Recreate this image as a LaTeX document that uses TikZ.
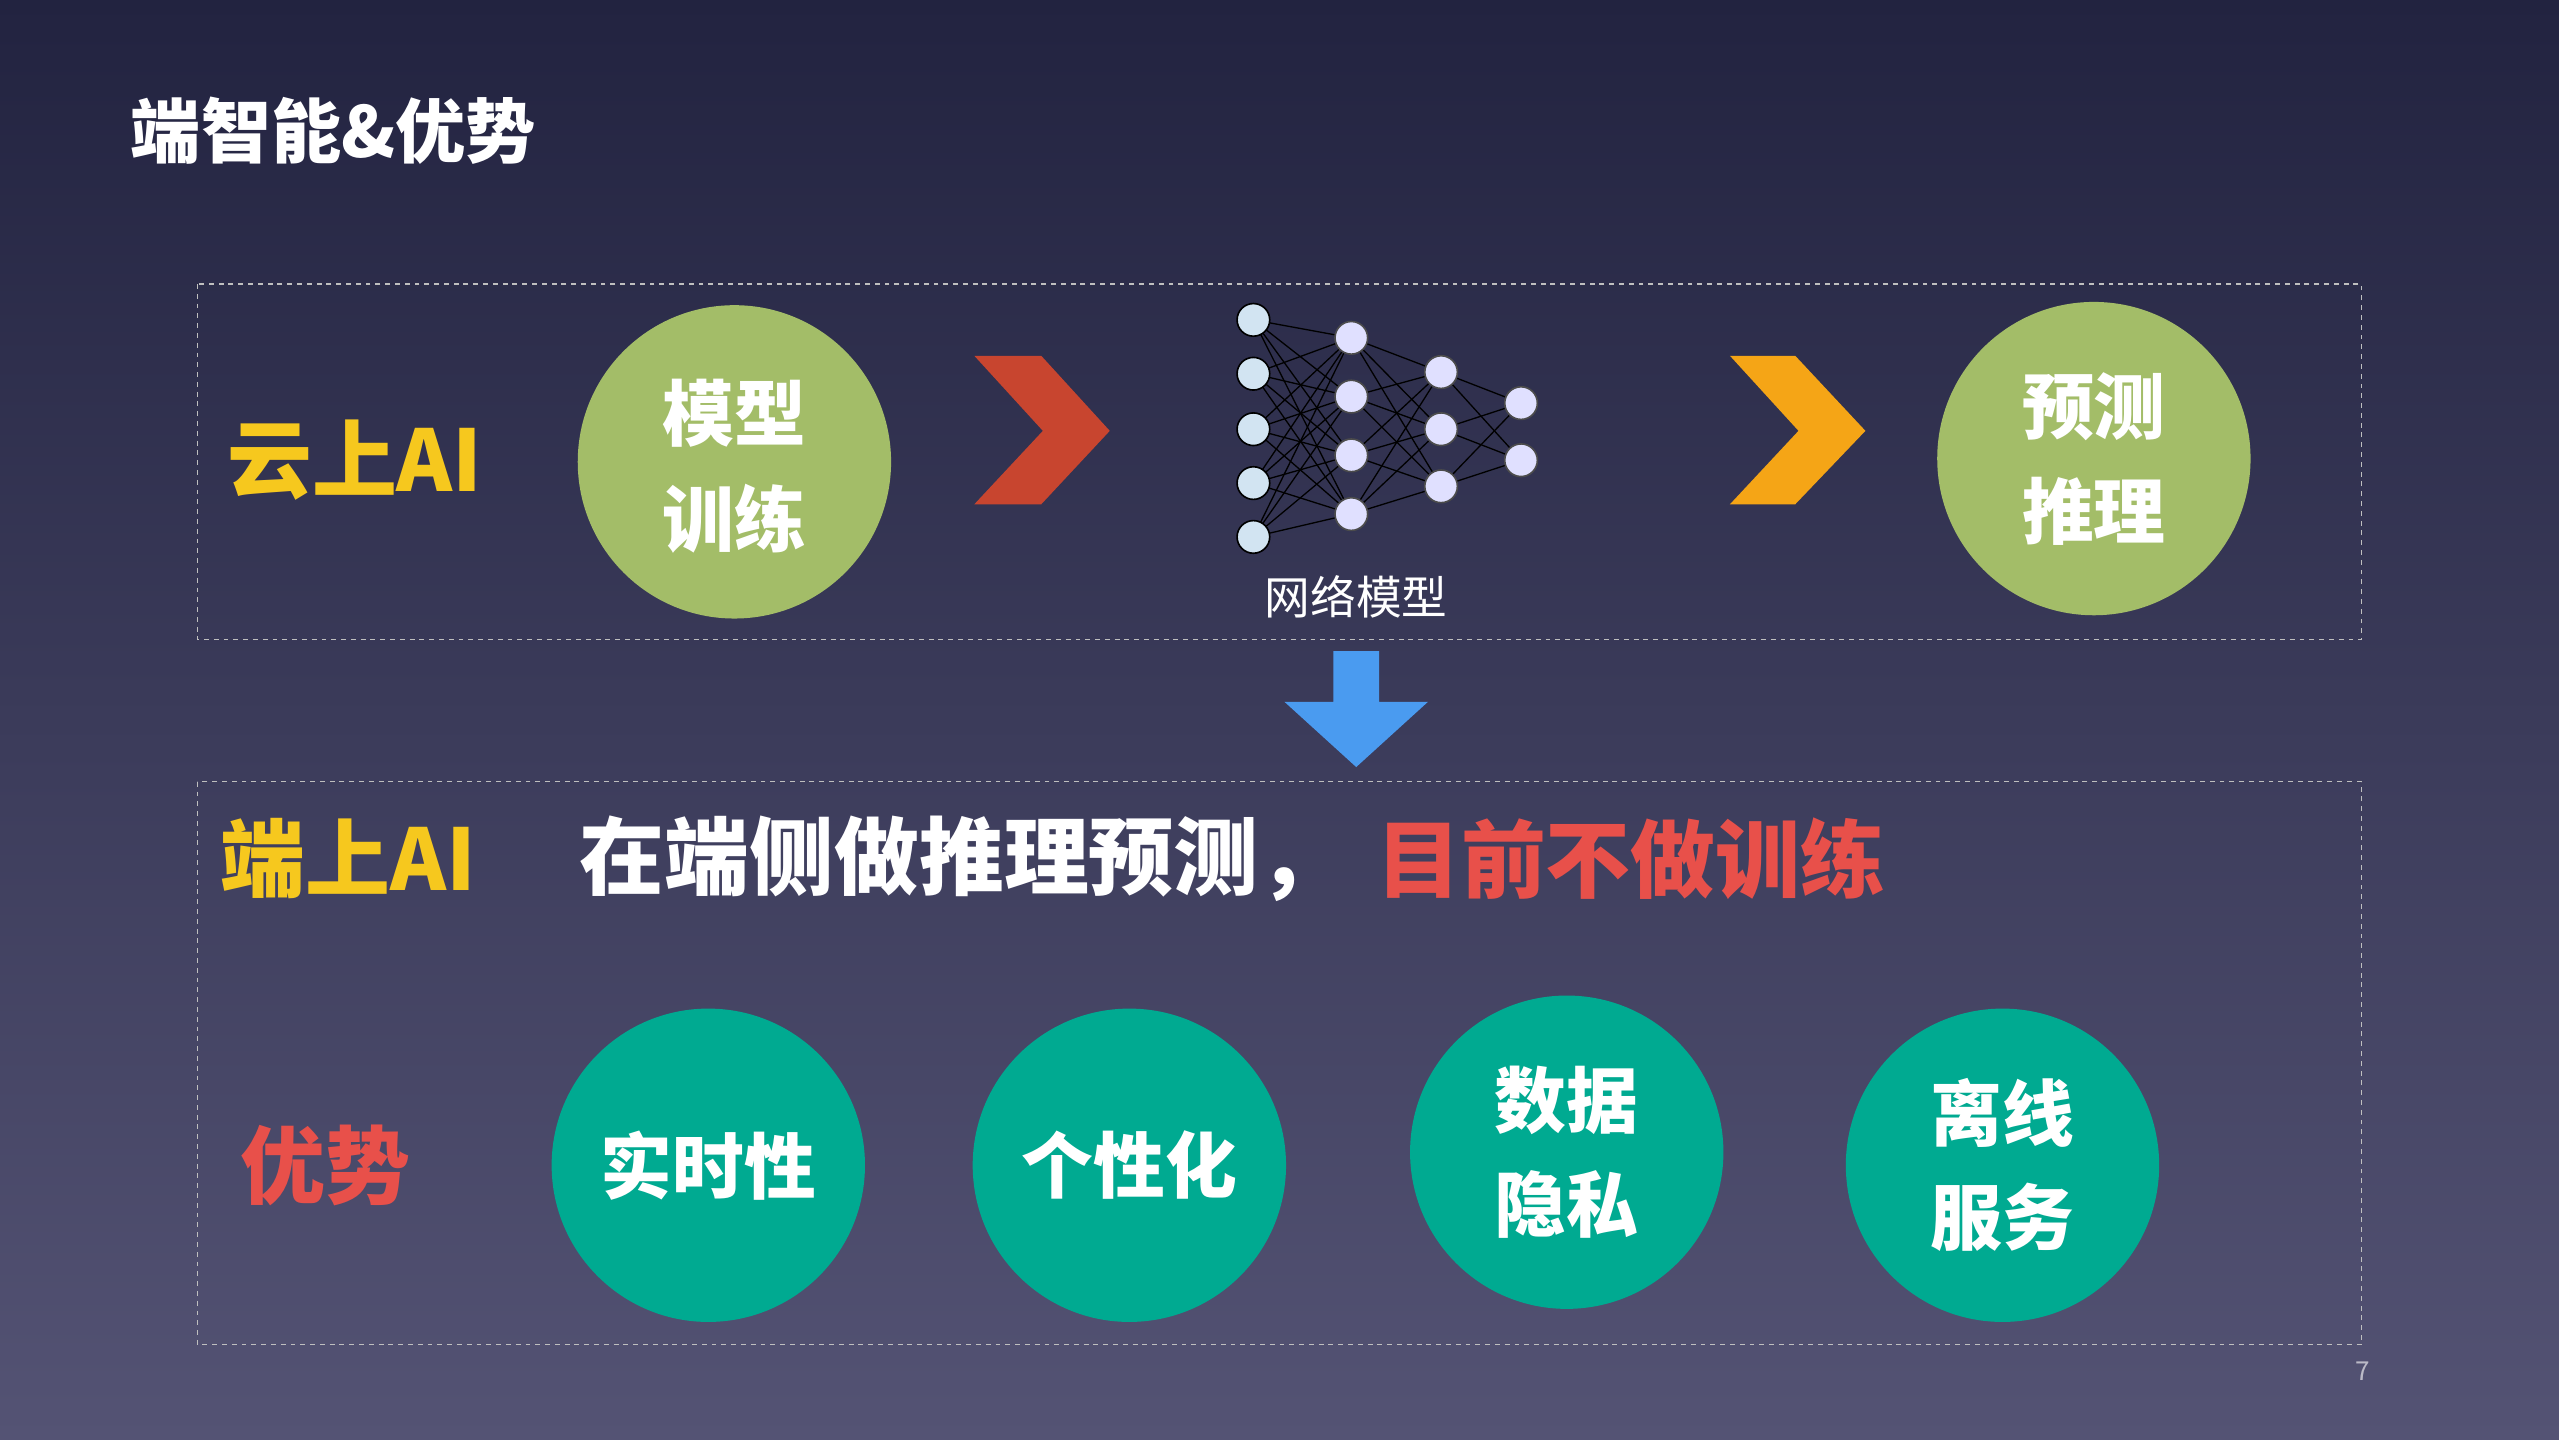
\documentclass[tikz,border=0pt]{standalone}
\usepackage{fontspec}
\setmainfont{Noto Sans CJK SC}
\begin{document}
\begin{tikzpicture}[x=1pt,y=-1pt,
  txt/.style={text=white,font=\bfseries\fontsize{44}{50}\selectfont,inner sep=0pt},
  big/.style={font=\bfseries\fontsize{52}{56}\selectfont,inner sep=0pt,anchor=west},
  dbox/.style={draw=white!75!black,dashed,line width=0.8pt},
  green/.style={circle,fill=tgreen,minimum size=192pt,inner sep=0pt},
  teal/.style={circle,fill=tteal,minimum size=192pt,inner sep=0pt},
  neu/.style={circle,fill=nfill,draw=black,line width=1pt,minimum size=20pt,inner sep=0pt}]
\definecolor{bgtop}{HTML}{222340}
\definecolor{bgbot}{HTML}{545374}
\definecolor{tgreen}{HTML}{A3BD68}
\definecolor{tteal}{HTML}{00AA91}
\definecolor{tyel}{HTML}{F6C81E}
\definecolor{tred}{HTML}{E8504A}
\definecolor{nfill}{HTML}{D2E4F2}
\useasboundingbox (0,0) rectangle (1568,882);
\shade[top color=bgtop,bottom color=bgbot] (0,0) rectangle (1568,882);
\node[txt,anchor=west,font=\bfseries\fontsize{43}{48}\selectfont] (title) at (80,80) {端智能\&优势};
\draw[dbox] (121,174) rectangle (1447,392);
\draw[dbox] (121,479) rectangle (1447,824);
\node[big,text=tyel] (cloud) at (139,282) {云上AI};
\node[green] (train) at (450,283) {};
\node[txt] at (450,253) {模型};
\node[txt] at (450,318) {训练};
\node[green] (pred) at (1283,281) {};
\node[txt] at (1283,249) {预测};
\node[txt] at (1283,313) {推理};
\fill[fill={rgb,255:red,200;green,69;blue,47}] (597,218) -- (638,218) -- (680,264) -- (638,309) -- (597,309) -- (639,264) -- cycle;
\fill[fill={rgb,255:red,245;green,165;blue,22}] (1060,218) -- (1100,218) -- (1143,264) -- (1100,309) -- (1060,309) -- (1102,264) -- cycle;
% neural net
\foreach \i/\y in {1/196,2/229,3/263,4/296,5/329} \coordinate (a\i) at (768,\y);
\foreach \i/\y in {1/207,2/243,3/279,4/315} \coordinate (b\i) at (828,\y);
\foreach \i/\y in {1/228,2/263,3/298} \coordinate (c\i) at (883,\y);
\foreach \i/\y in {1/247,2/282} \coordinate (d\i) at (932,\y);
\foreach \i in {1,...,5}{\foreach \j in {1,...,4}{\draw[black,line width=0.8pt] (a\i)--(b\j);}}
\foreach \i in {1,...,4}{\foreach \j in {1,...,3}{\draw[black,line width=0.8pt] (b\i)--(c\j);}}
\foreach \i in {1,...,3}{\foreach \j in {1,2}{\draw[black,line width=0.8pt] (c\i)--(d\j);}}
\foreach \i in {1,...,5} \node[neu] (na\i) at (a\i) {};
\foreach \i in {1,...,4} \node[neu,fill=white!88!blue,draw=black!70] (nb\i) at (b\i) {};
\foreach \i in {1,...,3} \node[neu,fill=white!88!blue,draw=black!70] (nc\i) at (c\i) {};
\foreach \i in {1,2} \node[neu,fill=white!88!blue,draw=black!70] (nd\i) at (d\i) {};
\node[text=white,font=\fontsize{28}{30}\selectfont,inner sep=0pt] (nnlabel) at (831,366) {网络模型};
% blue arrow
\fill[fill={rgb,255:red,74;green,155;blue,240}] (817,399) -- (845,399) -- (845,430) -- (875,430) -- (831,470) -- (787,430) -- (817,430) -- cycle;
\node[big,text=tyel] (edge) at (135,526) {端上AI};
\node[big,text=white] (desc) at (355,526) {在端侧做推理预测，};
\node[big,text=tred] (desc2) at (843,526) {目前不做训练};
\node[big,text=tred] (adv) at (147,714) {优势};
\node[teal] (t1) at (434,714) {};
\node[txt] at (434,714) {实时性};
\node[teal] (t2) at (692,714) {};
\node[txt] at (692,714) {个性化};
\node[teal] (t3) at (960,706) {};
\node[txt] at (960,674) {数据};
\node[txt] at (960,738) {隐私};
\node[teal] (t4) at (1227,714) {};
\node[txt] at (1227,682) {离线};
\node[txt] at (1227,746) {服务};
\node[text=white!60!bgbot,font=\fontsize{16}{18}\selectfont,inner sep=0pt] (pg) at (1448,840) {7};
\end{tikzpicture}
\end{document}
